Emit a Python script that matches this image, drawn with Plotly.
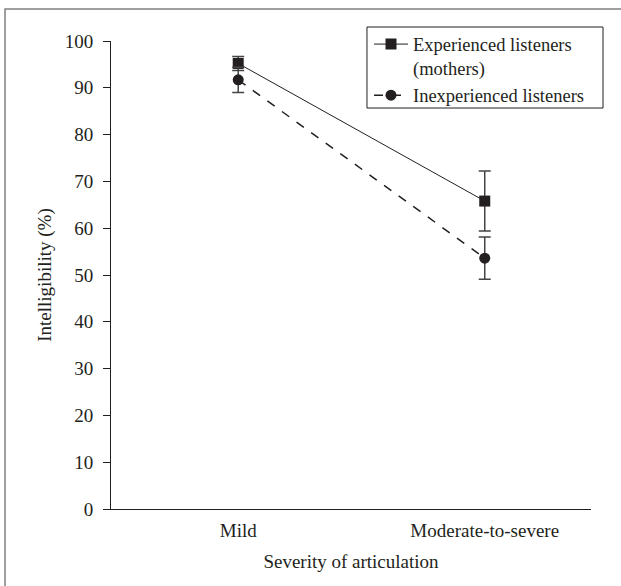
import plotly.graph_objects as go

categories = ["Mild", "Moderate-to-severe"]
experienced = [95.2, 65.8]
experienced_err = [1.5, 6.4]
inexperienced = [91.7, 53.6]
inexperienced_err = [2.7, 4.5]
y_ticks = [0, 10, 20, 30, 40, 50, 60, 70, 80, 90, 100]

INK = "#231f20"
FONT = "Liberation Serif"
FS = 19

fig = go.Figure()
fig.add_trace(go.Scatter(
    x=categories, y=experienced, name="Experienced listeners<br>(mothers)",
    mode="lines+markers",
    line=dict(color=INK, width=1),
    marker=dict(symbol="square", size=11, color=INK),
    error_y=dict(type="data", array=experienced_err, color="#444444", thickness=1.5, width=6),
))
fig.add_trace(go.Scatter(
    x=categories, y=inexperienced, name="Inexperienced listeners",
    mode="lines+markers",
    line=dict(color=INK, width=1.5, dash="dash"),
    marker=dict(symbol="circle", size=11, color=INK),
    error_y=dict(type="data", array=inexperienced_err, color="#444444", thickness=1.5, width=6),
))

fig.update_layout(
    width=621, height=586,
    margin=dict(l=111, r=30, t=41, b=77),
    paper_bgcolor="white", plot_bgcolor="white",
    font=dict(family=FONT, size=FS, color=INK),
    showlegend=True,
    legend=dict(
        x=0.5375, y=1.033, xanchor="left", yanchor="top",
        borderwidth=0, bgcolor="rgba(255,255,255,0)",
        font=dict(family=FONT, size=18.5, color=INK),
        valign="top", tracegroupgap=0, itemwidth=34,
    ),
    xaxis=dict(
        range=[-0.516, 1.431], showline=True, linecolor=INK, linewidth=1,
        ticks="", showgrid=False, zeroline=False, ticklabelstandoff=4,
        title=dict(text="Severity of articulation", standoff=14,
                   font=dict(family=FONT, size=FS, color=INK)),
        tickfont=dict(family=FONT, size=FS, color=INK),
    ),
    yaxis=dict(
        range=[0, 100], tickvals=y_ticks, showline=True, linecolor=INK, linewidth=1,
        ticks="outside", ticklen=7, tickcolor=INK, showgrid=False, zeroline=False,
        ticklabelstandoff=6,
        title=dict(text="Intelligibility (%)", standoff=8,
                   font=dict(family=FONT, size=FS, color=INK)),
        tickfont=dict(family=FONT, size=FS, color=INK),
    ),
    shapes=[
        dict(type="rect", xref="paper", yref="paper",
             x0=-0.2208, x1=1.2, y0=-0.3, y1=1.0684,
             line=dict(color="#808080", width=1.5), fillcolor="rgba(0,0,0,0)", layer="below"),
        dict(type="rect", xref="paper", yref="paper",
             x0=0.5333, x1=1.025, y0=0.8568, y1=1.0299,
             line=dict(color=INK, width=1), fillcolor="white", layer="below"),
    ],
)

fig.write_html("out.html", config={"displayModeBar": False},
               post_script="document.body.style.margin='0';")
